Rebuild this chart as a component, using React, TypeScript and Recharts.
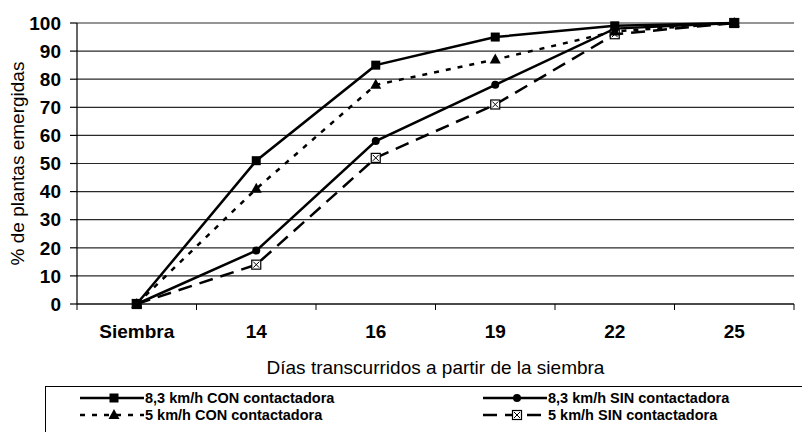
import React from "react";
import { LineChart, Line, XAxis, YAxis, CartesianGrid, Legend } from "recharts";

const days = ["Siembra", "14", "16", "19", "22", "25"];
const con83 = [0, 51, 85, 95, 99, 100];
const con5 = [0, 41, 78, 87, 97, 100];
const sin83 = [0, 19, 58, 78, 98, 100];
const sin5 = [0, 14, 52, 71, 96, 100];
const yTicks = [0, 10, 20, 30, 40, 50, 60, 70, 80, 90, 100];

const seriesNames = {
  con83: "8,3 km/h CON contactadora",
  sin83: "8,3 km/h SIN contactadora",
  con5: "5 km/h CON contactadora",
  sin5: "5 km/h SIN contactadora",
};

const data = days.map((d, i) => ({
  day: d,
  con83: con83[i],
  con5: con5[i],
  sin83: sin83[i],
  sin5: sin5[i],
}));

const FONT = "'Liberation Sans', Arial, sans-serif";

const SquareDot = (p: any) => {
  const { cx, cy } = p;
  if (cx == null || cy == null) return null;
  return <rect x={cx - 4.5} y={cy - 4.5} width={9} height={9} fill="#000" />;
};
const TriDot = (p: any) => {
  const { cx, cy } = p;
  if (cx == null || cy == null) return null;
  return <polygon points={`${cx},${cy - 6} ${cx + 5.5},${cy + 4} ${cx - 5.5},${cy + 4}`} fill="#000" />;
};
const CircleDot = (p: any) => {
  const { cx, cy } = p;
  if (cx == null || cy == null) return null;
  return <circle cx={cx} cy={cy} r={4} fill="#000" />;
};
const XSquareDot = (p: any) => {
  const { cx, cy } = p;
  if (cx == null || cy == null) return null;
  return (
    <g>
      <rect x={cx - 4.5} y={cy - 4.5} width={9} height={9} fill="#fff" stroke="#000" strokeWidth={1.2} />
      <line x1={cx - 3} y1={cy - 3} x2={cx + 3} y2={cy + 3} stroke="#000" strokeWidth={1} />
      <line x1={cx + 3} y1={cy - 3} x2={cx - 3} y2={cy + 3} stroke="#000" strokeWidth={1} />
    </g>
  );
};

const XTick = (props: any) => {
  const { x, y, payload, index, visibleTicksCount } = props;
  const half = payload && payload.offset ? payload.offset : 0;
  return (
    <g>
      {half > 0 && <line x1={x - half} y1={y} x2={x - half} y2={y + 6} stroke="#000" strokeWidth={1} />}
      {half > 0 && index === visibleTicksCount - 1 && (
        <line x1={x + half} y1={y} x2={x + half} y2={y + 6} stroke="#000" strokeWidth={1} />
      )}
      <text x={x} y={y + 34} textAnchor="middle" fontFamily={FONT} fontWeight="bold" fontSize={19} fill="#000">
        {payload.value}
      </text>
    </g>
  );
};

const legendItems = [
  { key: "con83", dash: undefined, Dot: SquareDot, col: 0, row: 0 },
  { key: "sin83", dash: undefined, Dot: CircleDot, col: 1, row: 0 },
  { key: "con5", dash: "5 7", Dot: TriDot, col: 0, row: 1 },
  { key: "sin5", dash: "14 8", Dot: XSquareDot, col: 1, row: 1 },
];

const LegendContent = () => (
  <div
    style={{
      position: "relative",
      width: 770,
      height: 60,
      border: "1.5px solid #000",
      boxSizing: "border-box",
      fontFamily: FONT,
    }}
  >
    {legendItems.map((it) => {
      const Dot = it.Dot;
      return (
        <div
          key={it.key}
          style={{
            position: "absolute",
            left: it.col === 0 ? 34 : 437,
            top: it.row === 0 ? 3 : 20,
            height: 16,
            display: "flex",
            alignItems: "center",
            whiteSpace: "nowrap",
          }}
        >
          <svg width={64} height={16}>
            <line x1={0} y1={8} x2={64} y2={8} stroke="#000" strokeWidth={2.5} strokeDasharray={it.dash} />
            <Dot cx={34} cy={8} />
          </svg>
          <span style={{ fontSize: 14.5, fontWeight: "bold", color: "#000", marginLeft: 1 }}>
            {(seriesNames as any)[it.key]}
          </span>
        </div>
      );
    })}
  </div>
);

export default function App() {
  return (
    <div style={{ position: "absolute", left: 0, top: 0, width: 802, height: 432, background: "#fff", overflow: "hidden" }}>
      <LineChart width={802} height={432} data={data} margin={{ top: 23, right: 8, bottom: 58, left: 0 }}>
        <CartesianGrid yAxisId="l" vertical={false} stroke="#2a2a2a" strokeWidth={1.2} />
        <XAxis
          dataKey="day"
          scale="band"
          tickLine={false}
          tickSize={0}
          tickMargin={0}
          axisLine={{ stroke: "#000", strokeWidth: 1.2 }}
          tick={<XTick />}
          interval={0}
          height={70}
          label={{
            value: "Días transcurridos a partir de la siembra",
            position: "insideBottom",
            offset: 0,
            style: { fontFamily: FONT, fontSize: 19, fill: "#000" },
          }}
        />
        <YAxis
          yAxisId="l"
          width={77}
          domain={[0, 100]}
          ticks={yTicks}
          interval={0}
          tickSize={7}
          tickMargin={9}
          tickLine={{ stroke: "#000", strokeWidth: 1.2 }}
          axisLine={{ stroke: "#000", strokeWidth: 1.2 }}
          tick={{ fontFamily: FONT, fontSize: 19, fontWeight: "bold", fill: "#000" }}
          label={{
            value: "% de plantas emergidas",
            angle: -90,
            position: "insideLeft",
            offset: 17,
            style: { fontFamily: FONT, fontSize: 19, fill: "#000", textAnchor: "middle" },
          }}
        />
        <YAxis
          yAxisId="r"
          orientation="right"
          width={0}
          domain={[0, 100]}
          tick={false}
          tickLine={false}
          axisLine={{ stroke: "#000", strokeWidth: 1.2 }}
        />
        <Legend
          layout="horizontal"
          verticalAlign="middle"
          align="center"
          wrapperStyle={{ left: 45, top: 386, width: 770, height: 60 }}
          content={<LegendContent />}
        />
        <Line yAxisId="l" dataKey="sin5" name={seriesNames.sin5} stroke="#000" strokeWidth={2.5} strokeDasharray="14 8" dot={<XSquareDot />} isAnimationActive={false} />
        <Line yAxisId="l" dataKey="con5" name={seriesNames.con5} stroke="#000" strokeWidth={2.5} strokeDasharray="5 7" dot={<TriDot />} isAnimationActive={false} />
        <Line yAxisId="l" dataKey="sin83" name={seriesNames.sin83} stroke="#000" strokeWidth={2.5} dot={<CircleDot />} isAnimationActive={false} />
        <Line yAxisId="l" dataKey="con83" name={seriesNames.con83} stroke="#000" strokeWidth={2.5} dot={<SquareDot />} isAnimationActive={false} />
      </LineChart>
    </div>
  );
}
